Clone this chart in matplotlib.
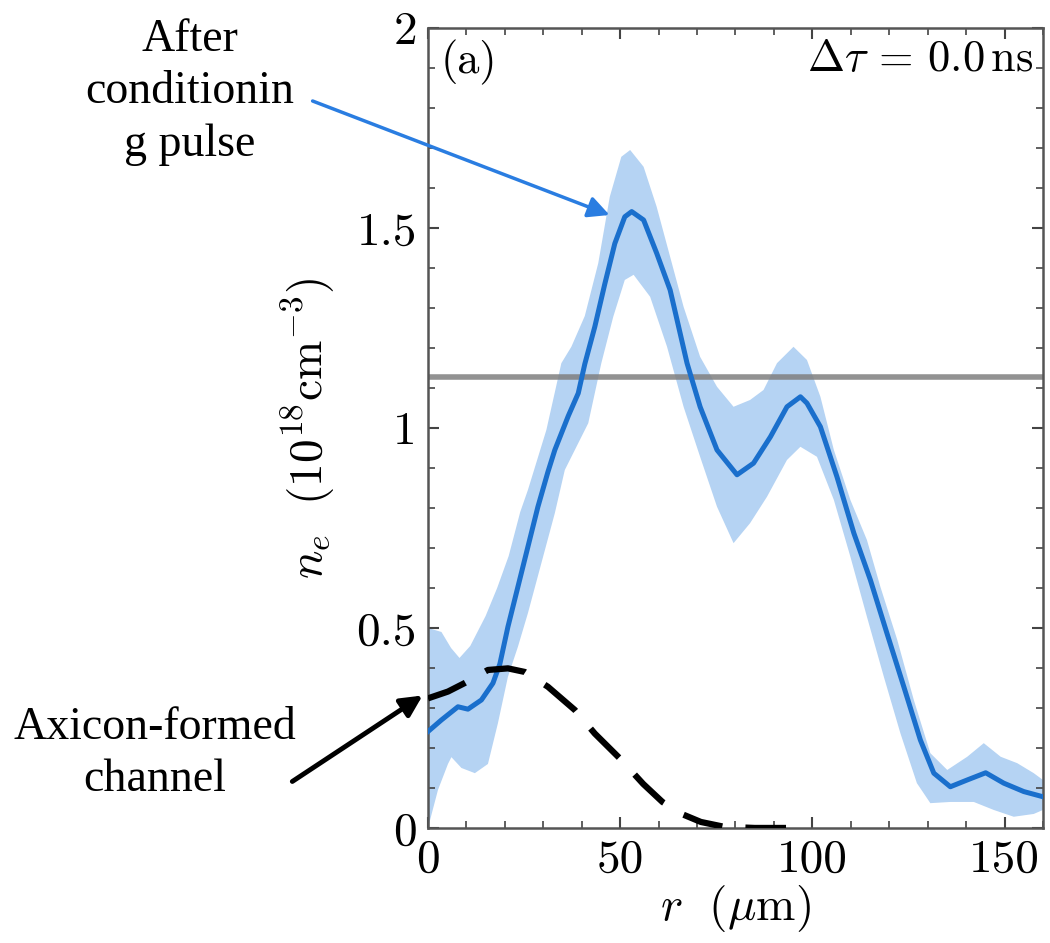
import matplotlib
matplotlib.use("Agg")
import matplotlib.pyplot as plt
import numpy as np

plt.rcParams['font.family'] = ['cmr10', 'DejaVu Serif']
plt.rcParams['mathtext.fontset'] = 'cm'
plt.rcParams['axes.unicode_minus'] = False

# measured profile (r in um, n_e in 1e18 cm^-3)
r_main = [0, 3.5, 7.8, 10.4, 13.9, 16.9, 18.7, 20.8, 23.4, 26, 28.6, 31.2, 33, 36.5, 39.1, 40.8,
          43.4, 46, 48.6, 51.2, 53, 56.1, 59.5, 63, 67.4, 70.8, 75.2, 80.4, 84.7, 89.1, 93.4, 96.9,
          98.6, 102.1, 106.4, 110.8, 115.1, 119.4, 123.8, 128.1, 131.6, 135.9, 140.3, 145.1,
          149.8, 155, 160]
n_main = [0.241, 0.27, 0.303, 0.297, 0.32, 0.362, 0.41, 0.503, 0.603, 0.703, 0.803, 0.89, 0.945,
          1.03, 1.087, 1.16, 1.253, 1.36, 1.461, 1.528, 1.541, 1.52, 1.437, 1.345, 1.162, 1.053,
          0.945, 0.883, 0.912, 0.978, 1.053, 1.078, 1.062, 1.003, 0.878, 0.737, 0.62, 0.487, 0.353,
          0.22, 0.137, 0.103, 0.12, 0.138, 0.112, 0.091, 0.078]

r_up = [0, 3.5, 6, 8.2, 11, 15, 18, 21, 24, 26, 30.8, 34.7, 37.3, 40.8, 44.3, 47.3, 50.3, 52.6,
        56.1, 59.5, 63, 66.5, 70.8, 75.2, 79.5, 83.8, 87.3, 90.8, 95.1, 98.6, 102.1, 105.6, 109.9,
        114.2, 117.7, 122.1, 126.4, 130.7, 135.1, 140.3, 144.6, 149, 153.3, 157.6, 160]
n_up = [0.50, 0.49, 0.45, 0.425, 0.455, 0.53, 0.60, 0.68, 0.79, 0.845, 0.995, 1.162, 1.203, 1.28,
        1.412, 1.578, 1.678, 1.695, 1.653, 1.553, 1.428, 1.303, 1.178, 1.103, 1.053, 1.07, 1.095,
        1.162, 1.203, 1.17, 1.078, 0.945, 0.82, 0.72, 0.603, 0.47, 0.32, 0.187, 0.145, 0.178,
        0.212, 0.178, 0.162, 0.137, 0.12]

r_lo = [0, 2.6, 5.2, 6.1, 8.7, 12.2, 15.6, 18.2, 20.8, 23.4, 26, 29.5, 33, 35.6, 41.7, 45.1, 48.2,
        51.2, 53.5, 57.8, 62.2, 66.5, 70.8, 75.2, 79.5, 83.8, 88.2, 93.4, 96.9, 101.2, 105.6,
        109.9, 114.2, 118.6, 122.9, 127.2, 130.7, 135.9, 142, 147.2, 152.4, 157.6, 160]
n_lo = [0.0, 0.095, 0.16, 0.177, 0.15, 0.137, 0.16, 0.262, 0.378, 0.453, 0.537, 0.662, 0.787,
        0.895, 1.012, 1.162, 1.278, 1.37, 1.383, 1.328, 1.203, 1.053, 0.928, 0.803, 0.712, 0.762,
        0.828, 0.92, 0.953, 0.928, 0.82, 0.678, 0.528, 0.378, 0.237, 0.112, 0.062, 0.065, 0.065,
        0.045, 0.028, 0.035, 0.045]

# axicon-formed channel (dashed)
r_ax = [0, 5.2, 9.5, 15.6, 20.8, 25.2, 31.2, 38.2, 43.4, 49.9, 56, 61, 66, 71, 77, 85, 94]
n_ax = [0.324, 0.341, 0.362, 0.395, 0.399, 0.39, 0.353, 0.295, 0.236, 0.174, 0.11, 0.065, 0.035,
        0.015, 0.003, 0.0, 0.0]

threshold = 1.128

fig = plt.figure(figsize=(10.5, 9.43), dpi=100)
ax = fig.add_axes([0.4076, 0.122, 0.5857, 0.8483])

# band as polygon between upper and lower edges
ax.fill(r_up + r_lo[::-1], n_up + n_lo[::-1], color='#b5d3f3', lw=0, zorder=1)
ax.plot(r_main, n_main, color='#1a6fcc', lw=3.6, zorder=3, solid_joinstyle='round')
ax.plot(r_ax, n_ax, color='black', lw=4.5, ls=(0, (6.5, 3.7)), zorder=4)
ax.axhline(threshold, color='#7f7f7f', lw=4, alpha=0.85, zorder=2)

ax.set_xlim(0, 160)
ax.set_ylim(0, 2)
ax.set_xticks([0, 50, 100, 150])
ax.set_xticklabels(['0', '50', '100', '150'])
ax.set_yticks([0, 0.5, 1, 1.5, 2])
ax.set_yticklabels(['0', '0.5', '1', '1.5', '2'])
ax.set_xticks(np.arange(0, 161, 10), minor=True)
ax.set_yticks(np.arange(0, 2.01, 0.1), minor=True)
ax.tick_params(which='both', direction='in', top=True, right=True, labelsize=34, color='#444444')
ax.tick_params(which='major', length=8, width=1.5, pad=8)
ax.tick_params(which='minor', length=5, width=1.2)
for s in ax.spines.values():
    s.set_color('#555555')
    s.set_linewidth(1.8)

ax.set_xlabel(r'$r\ \ (\mu\mathrm{m})$', fontsize=34, labelpad=2)
ax.set_ylabel(r'$n_e\ \ (10^{18}\mathrm{cm}^{-3})$', fontsize=34, labelpad=14)

ax.text(0.02, 0.985, '(a)', transform=ax.transAxes, fontsize=32, va='top', ha='left')
ax.text(0.985, 0.985, r'$\Delta\tau$ = 0.0$\,$ns', transform=ax.transAxes, fontsize=32,
        va='top', ha='right')

fig.text(190 / 1050, 1 - 92 / 943, 'After\nconditionin\ng pulse', fontsize=33,
         family='Liberation Serif', ha='center', va='center', linespacing=1.3)
fig.text(155 / 1050, 1 - 754 / 943, 'Axicon-formed\nchannel', fontsize=33,
         family='Liberation Serif', ha='center', va='center', linespacing=1.3)

ax.annotate('', xy=(47.9, 1.53), xycoords='data',
            xytext=(310 / 1050, 1 - 100 / 943), textcoords='figure fraction',
            arrowprops=dict(arrowstyle='-|>', color='#2a7de1', lw=2.5, mutation_scale=32),
            annotation_clip=False)
ax.annotate('', xy=(-0.8, 0.335), xycoords='data',
            xytext=(290 / 1050, 1 - 783 / 943), textcoords='figure fraction',
            arrowprops=dict(arrowstyle='-|>', color='black', lw=3.5, mutation_scale=32),
            annotation_clip=False)

fig.savefig('out.png', dpi=100)
